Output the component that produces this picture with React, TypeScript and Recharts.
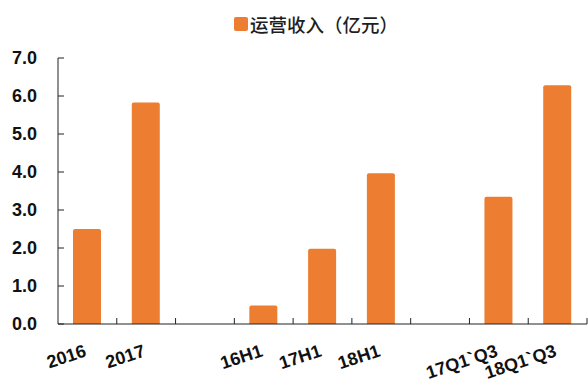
import React from 'react';
import { BarChart, Bar, XAxis, YAxis } from 'recharts';

// 运营收入（亿元），空字符串是分组之间的空档
const periods = ['2016', '2017', '', '16H1', '17H1', '18H1', ' ', '17Q1`Q3', '18Q1`Q3'];
const revenue = [2.5, 5.83, null, 0.49, 1.98, 3.97, null, 3.35, 6.28];
const yTicks = [0, 1, 2, 3, 4, 5, 6, 7];

const ORANGE = '#ED7D31';
const LABEL_FONT = '"Liberation Sans", Arial, sans-serif';

const chartData = periods.map((period, i) => ({ period, revenue: revenue[i] }));

// 分类标签斜放，刻度线画在分类的边界上
const PeriodTick = (props: any) => {
  const { x, y, payload, index, width } = props;
  const band = payload.offset ? payload.offset * 2 : width / periods.length;
  const left = x - band / 2;
  const label = String(payload.value).trim();
  const ty = y + 32;
  return (
    <g>
      {index > 0 && <line x1={left} x2={left} y1={y - 6} y2={y} stroke="#222" />}
      {index === periods.length - 1 && (
        <line x1={left + band} x2={left + band} y1={y - 6} y2={y} stroke="#222" />
      )}
      {label && (
        <text
          x={x}
          y={ty}
          textAnchor="end"
          transform={`rotate(-18 ${x} ${ty})`}
          fontFamily={LABEL_FONT}
          fontWeight="bold"
          fontSize={18}
          fill="#111"
        >
          {label}
        </text>
      )}
    </g>
  );
};

// 图例单独放在图上方，不占绘图区的高度
const RevenueLegend = () => (
  <div style={{ position: 'absolute', top: 15, left: 234, display: 'flex', alignItems: 'center' }}>
    <span style={{ width: 14, height: 14, background: ORANGE, borderRadius: 2, marginRight: 2 }} />
    <span
      style={{
        fontFamily: '"Noto Sans CJK SC", sans-serif',
        fontSize: 18.5,
        fontWeight: 500,
        color: '#1e1e1e',
        lineHeight: 1,
      }}
    >
      运营收入（亿元）
    </span>
  </div>
);

export default function App() {
  return (
    <div style={{ position: 'absolute', left: 0, top: 0, width: 588, height: 381, background: '#fff' }}>
      <RevenueLegend />
      <BarChart
        width={588}
        height={381}
        data={chartData}
        margin={{ top: 58, right: 1, left: 0, bottom: 0 }}
      >
        <XAxis
          dataKey="period"
          height={57}
          axisLine={{ stroke: '#222' }}
          tickLine={false}
          tickSize={0}
          tickMargin={0}
          interval={0}
          tick={<PeriodTick />}
        />
        <YAxis
          width={58}
          domain={[0, 7]}
          ticks={yTicks}
          interval={0}
          tickFormatter={(v: number) => v.toFixed(1)}
          axisLine={{ stroke: '#222' }}
          tickLine={{ stroke: '#222' }}
          tickSize={-6}
          tickMargin={27}
          tick={{ fontFamily: LABEL_FONT, fontWeight: 'bold', fontSize: 18, fill: '#111' }}
        />
        <Bar
          dataKey="revenue"
          fill={ORANGE}
          barSize={28}
          radius={[2, 2, 0, 0]}
          isAnimationActive={false}
        />
      </BarChart>
    </div>
  );
}
